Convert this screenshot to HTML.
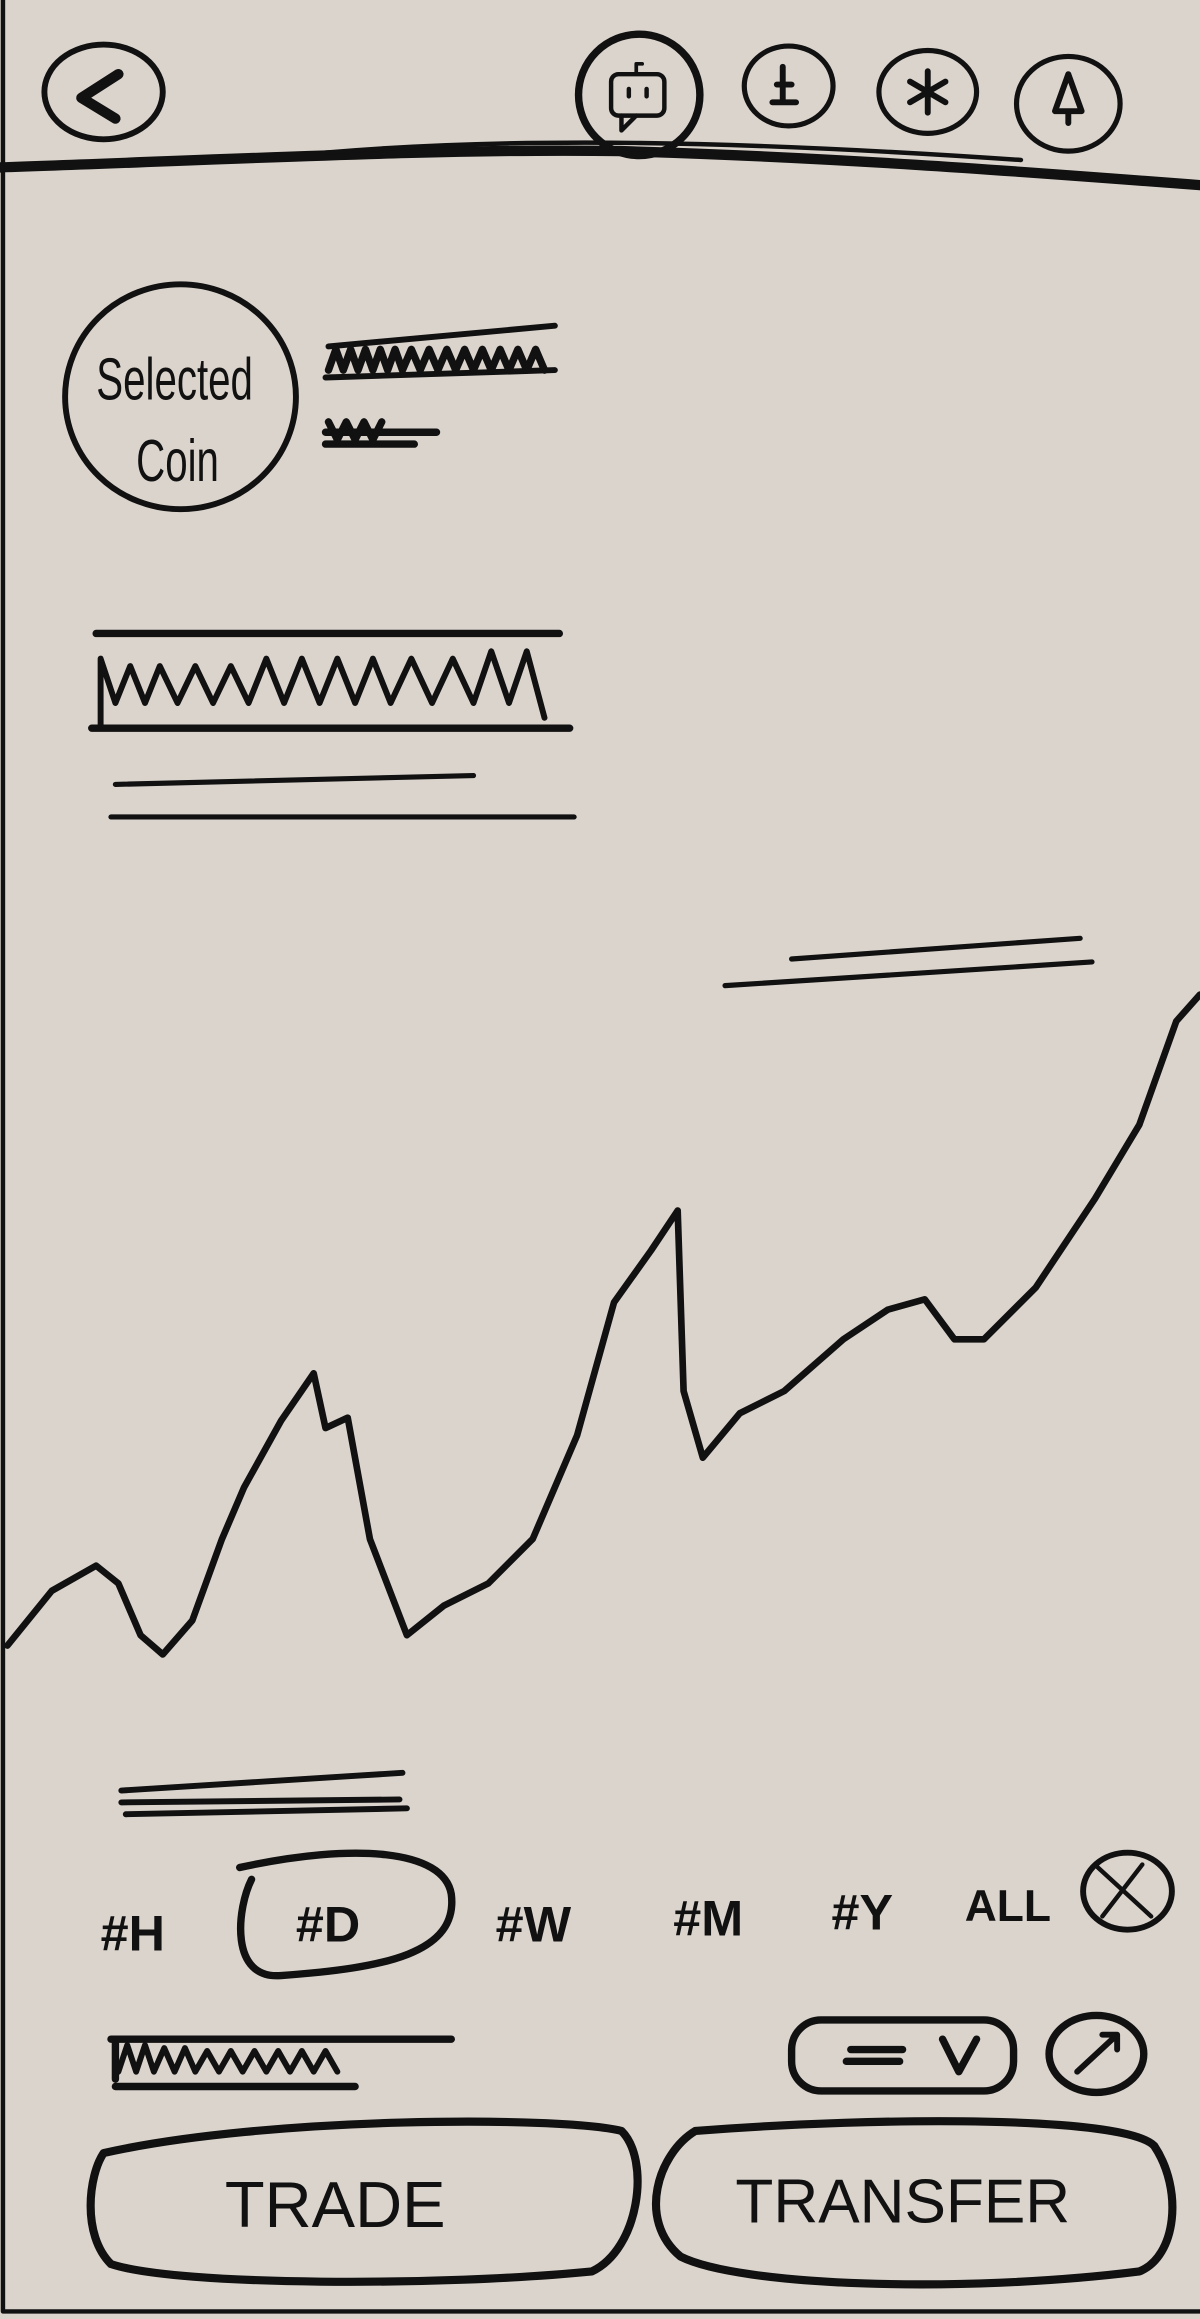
<!DOCTYPE html>
<html><head><meta charset="utf-8">
<style>
html,body{margin:0;padding:0;background:#dbd4cd;}
svg{display:block;}
text{font-family:"Liberation Sans",sans-serif;fill:#111;}
</style></head>
<body>
<svg id="main" width="1200" height="2319" viewBox="0 0 811 1567" xmlns="http://www.w3.org/2000/svg">
<rect x="0" y="0" width="811" height="1567" fill="#dbd4cd"/>
<g fill="none" stroke="#111" stroke-linecap="round" stroke-linejoin="round">
  <path d="M2 0 V1562 H811" stroke-width="3"/>
  <path d="M0 113 C150 108 300 100 420 102 C560 106 680 115 811 125" stroke-width="7"/>
  <path d="M220 103 C350 92 500 95 690 108" stroke-width="3"/>
  <g><ellipse cx="70" cy="62" rx="40" ry="32" stroke-width="4"/><path d="M80 50 L55 66 L78 80" stroke-width="7"/></g>
  <g><circle cx="432" cy="64" r="41" stroke-width="5"/><rect x="413" y="50" width="36" height="28" rx="5" stroke-width="3"/><path d="M430 50 V43 h4" stroke-width="2.5"/><path d="M420 78 v10 l10 -10" stroke-width="3"/><path d="M425 60 v5 M437 60 v5" stroke-width="3"/></g>
  <g><ellipse cx="533" cy="58" rx="30" ry="27" stroke-width="3.5"/><path d="M529 45 v24 M522 69 h16 M525 57 h10" stroke-width="4"/></g>
  <g><ellipse cx="627" cy="62" rx="33" ry="28" stroke-width="3.5"/><path d="M627 48 v28 M615 55 l24 14 M639 55 l-24 14" stroke-width="4"/></g>
  <g><ellipse cx="722" cy="70" rx="35" ry="32" stroke-width="3.5"/><path d="M722 50 l-9 25 h18 z M722 75 v8" stroke-width="4"/></g>
  <ellipse cx="122" cy="268" rx="78" ry="76" stroke-width="4"/>
  <path d="M220 255 L375 250 M222 234 L375 220" stroke-width="4"/>
  <path d="M222 250 l5 -14 5 14 5 -14 5 14 5 -14 5 14 5 -14 5 14 5 -14 5 14 6 -14 6 14 6 -14 6 14 6 -14 6 14 6 -14 6 14 6 -14 6 14 6 -14 6 14 6 -14 6 14 6 -14 6 14" stroke-width="5"/>
  <path d="M220 292 H295 M220 300 H280 M222 285 l6 12 6 -12 6 12 6 -12 6 12 6 -12" stroke-width="5"/>
  <g>
    <path d="M65 428 H378 M62 492 H385" stroke-width="5"/>
    <path d="M68 490 V445 l10 30 10 -25 10 25 10 -25 12 25 12 -25 12 25 12 -25 12 25 12 -30 12 30 12 -30 12 30 12 -30 12 30 12 -30 12 30 14 -30 14 30 14 -30 14 30 12 -35 12 35 12 -35 12 45" stroke-width="4"/>
  </g>
  <path d="M78 530 L320 524 M75 552 L388 552" stroke-width="3.5"/>
  <path d="M535 648 L730 634 M490 666 L738 650" stroke-width="3.5"/>
  <path d="M82 1210 L272 1198 M82 1218 L270 1216 M85 1226 L275 1222" stroke-width="4"/>
  <path d="M162 1262 C240 1245 300 1250 305 1280 C310 1320 260 1330 190 1335 C155 1338 160 1290 170 1270" stroke-width="5"/>
  <g><ellipse cx="762" cy="1278" rx="30" ry="26" stroke-width="4"/><path d="M742 1262 L778 1295 M745 1295 L772 1260" stroke-width="3"/></g>
  <g><path d="M75 1378 H305 M78 1410 H240 M78 1378 V1405" stroke-width="5"/><path d="M80 1400 l6 -18 6 18 6 -18 6 18 7 -16 7 16 7 -16 7 16 8 -14 8 14 8 -14 8 14 8 -14 8 14 8 -14 8 14 8 -14 8 14 8 -14 8 14" stroke-width="4"/></g>
  <g><rect x="535" y="1365" width="150" height="48" rx="20" stroke-width="5"/><path d="M575 1385 H610 M572 1393 H608" stroke-width="5"/><path d="M637 1378 L648 1400 L660 1378" stroke-width="5"/></g>
  <g><ellipse cx="741" cy="1388" rx="32" ry="26" stroke-width="5"/><path d="M728 1400 L755 1375 M745 1375 h10 v10" stroke-width="4"/></g>
  <path d="M70 1455 C180 1430 380 1430 420 1440 C440 1460 432 1520 400 1535 C300 1545 120 1545 75 1530 C55 1510 60 1470 70 1455 Z" stroke-width="5.5"/>
  <path d="M470 1440 C600 1430 760 1430 780 1450 C800 1480 795 1525 770 1535 C650 1550 500 1545 460 1525 C430 1500 445 1455 470 1440 Z" stroke-width="5.5"/>
</g>
<text x="118" y="270" font-size="40" text-anchor="middle" transform="translate(118 0) scale(0.68 1) translate(-118 0)">Selected</text>
<text x="120" y="325" font-size="40" text-anchor="middle" transform="translate(120 0) scale(0.68 1) translate(-120 0)">Coin</text>
<g font-weight="bold" font-size="34">
  <text x="68" y="1318">#H</text>
  <text x="200" y="1312">#D</text>
  <text x="335" y="1312">#W</text>
  <text x="455" y="1308">#M</text>
  <text x="562" y="1304">#Y</text>
  <text x="652" y="1298" font-size="30">ALL</text>
</g>
<text x="152" y="1505" font-size="44">TRADE</text>
<text x="497" y="1502" font-size="42">TRANSFER</text>
<g id="chart"></g>
</svg>
<script>
const times = [0,30,60,75,90,105,125,145,160,185,207,215,230,245,270,295,325,355,385,410,435,453,457,470,495,525,565,595,620,640,660,695,735,765,790,806];
const prices = [88,125,142,130,95,82,105,160,195,240,272,235,242,160,95,115,130,160,230,320,355,382,260,215,245,260,295,315,322,295,295,330,390,440,510,528];
const xScale = t => 5 + t;
const yScale = v => 1200 - v;
const g = document.getElementById('chart');
const d = times.map((t,i)=>(i?'L':'M')+xScale(t)+' '+yScale(prices[i])).join(' ');
const p = document.createElementNS('http://www.w3.org/2000/svg','path');
p.setAttribute('d', d);
p.setAttribute('fill','none');
p.setAttribute('stroke','#111');
p.setAttribute('stroke-width','4.5');
p.setAttribute('stroke-linejoin','round');
p.setAttribute('stroke-linecap','round');


g.appendChild(p);
</script>
</body></html>
